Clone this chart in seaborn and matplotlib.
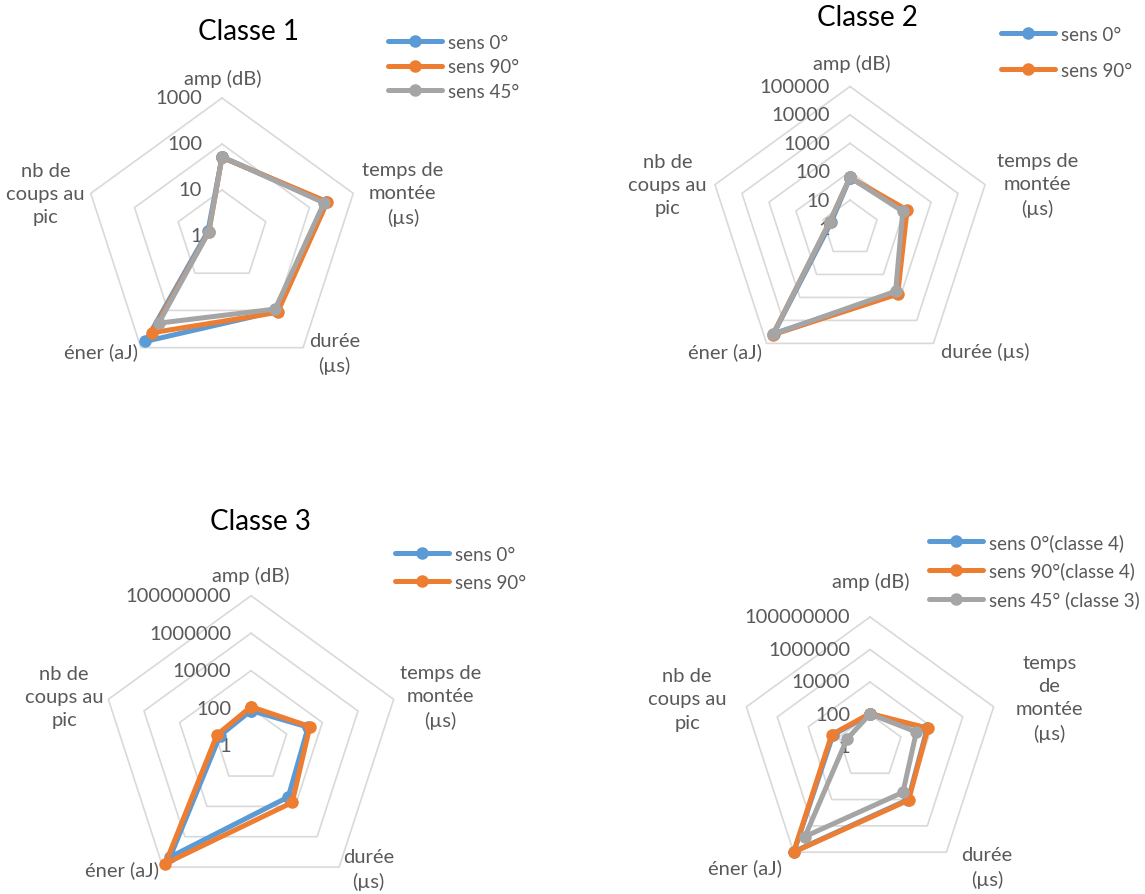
import numpy as np
import matplotlib.pyplot as plt
import seaborn as sns
from matplotlib.lines import Line2D
from matplotlib.transforms import offset_copy

sns.set_theme(style="white")
plt.rcParams["font.family"] = ["Lato", "DejaVu Sans"]

# ---- data ----
labels_a = ["amp (dB)", "temps de\nmontée\n(µs)", "durée\n(µs)", "éner (aJ)", "nb de\ncoups au\npic"]
labels_b = ["amp (dB)", "temps de\nmontée\n(µs)", "durée (µs)", "éner (aJ)", "nb de\ncoups au\npic"]
labels_c = ["amp (dB)", "temps\nde\nmontée\n(µs)", "durée\n(µs)", "éner (aJ)", "nb de\ncoups au\npic"]

# classe 1
c1_sens0 = [52, 240, 105, 680, 2.1]
c1_sens90 = [51, 255, 113, 400, 2.0]
c1_sens45 = [53, 215, 92, 220, 2.0]
c1_ticks = ["1", "10", "100", "1000"]

# classe 2
c2_sens0 = [62, 110, 620, 38000, 5.0]
c2_sens90 = [63, 130, 720, 42000, 5.6]
c2_sens45 = [63, 90, 540, 40000, 5.7]
c2_ticks = ["1", "10", "100", "1000", "10000", "100000"]

# classe 3
c3_sens0 = [75, 1600, 2400, 2.2e7, 55]
c3_sens90 = [120, 2000, 5500, 6e7, 80]
c3_ticks = ["1", "100", "10000", "1000000", "100000000"]

# classe 4 (+ sens 45 of classe 3)
c4_sens0 = [105, 5000, 10000, 9e7, 250]
c4_sens90 = [115, 5600, 11000, 1e8, 300]
c3_sens45 = [108, 1000, 2800, 6.5e6, 32]
c4_ticks = ["1", "100", "10000", "1000000", "100000000"]

BLUE, ORANGE, GRAY = "#5B9BD5", "#ED7D31", "#A5A5A5"
TXT = "#595959"
FS = 14.5
FS_LEG = 13.5
W, H = 1145, 895

fig = plt.figure(figsize=(W / 100, H / 100), dpi=100)


def radar(cx, cy, R, series, ticks, cat_labels, lab_off):
    ax = fig.add_axes([(cx - R) / W, 1 - (cy + R) / H, 2 * R / W, 2 * R / H], projection="polar")
    ax.set_theta_zero_location("N")
    ax.set_theta_direction(-1)
    ax.set_rscale("log")
    tvals = [float(t) for t in ticks]
    ax.set_rlim(tvals[0], tvals[-1])
    ax.grid(False)
    ax.spines["polar"].set_visible(False)
    ax.set_xticks([])
    ax.set_yticks([])
    ax.yaxis.set_minor_locator(plt.NullLocator())
    ax.patch.set_alpha(0)

    theta = np.linspace(0, 2 * np.pi, 6)
    # pentagon grid rings
    for t in tvals[1:]:
        ax.plot(theta, [t] * 6, color="#D9D9D9", lw=1.2, zorder=1, clip_on=False)

    # tick labels left of the vertical axis
    tr = offset_copy(ax.transData, fig=fig, x=-20, y=0, units="dots")
    for t, s in zip(tvals, ticks):
        ax.text(0, t, s, transform=tr, ha="right", va="center", fontsize=FS,
                color=TXT, zorder=1)

    # category labels anchored at the outer vertices
    for i, (lab, (dx, dy, ha, va)) in enumerate(zip(cat_labels, lab_off)):
        trl = offset_copy(ax.transData, fig=fig, x=dx, y=dy, units="dots")
        ax.text(theta[i], tvals[-1], lab, transform=trl, ha=ha, va=va, fontsize=FS,
                color=TXT, multialignment="center", linespacing=1.45)

    for vals, col in series:
        sns.lineplot(x=theta, y=list(vals) + [vals[0]], ax=ax, sort=False, estimator=None,
                     color=col, lw=3.6, marker="o", markersize=9, markeredgewidth=0,
                     clip_on=False, zorder=3)
    return ax


def legend(names, colors, x, y, spacing):
    handles = [Line2D([], [], color=c, lw=3.6, marker="o", markersize=9, markeredgewidth=0)
               for c in colors]
    fig.legend(handles, names, loc="upper left", bbox_to_anchor=(x / W, 1 - y / H),
               frameon=False, fontsize=FS_LEG, handlelength=2.9, handletextpad=0.3,
               labelspacing=spacing, borderpad=0, borderaxespad=0, labelcolor=TXT)


off1 = [(1, 11, "center", "bottom"), (9, 0, "left", "center"), (6, -5, "left", "center"),
        (-3, -4, "right", "center"), (-6, 0, "right", "center")]
off2 = [(2, 14, "center", "bottom"), (12, 0, "left", "center"), (8, -8, "left", "center"),
        (-5, -8, "right", "center"), (-8, 0, "right", "center")]
off3 = [(0, 12, "center", "bottom"), (6, 3, "left", "center"), (4, -2, "left", "center"),
        (-4, -2, "right", "center"), (-5, 3, "right", "center")]
off4 = [(1, 27, "center", "bottom"), (22, 9, "left", "center"), (15, -15, "left", "center"),
        (-12, -15, "right", "center"), (-20, 8, "right", "center")]

radar(222, 237, 138, [(c1_sens0, BLUE), (c1_sens90, ORANGE), (c1_sens45, GRAY)],
      c1_ticks, labels_a, off1)
radar(850, 229.5, 142, [(c2_sens0, BLUE), (c2_sens90, ORANGE), (c2_sens45, GRAY)],
      c2_ticks, labels_b, off2)
radar(251, 746.7, 150, [(c3_sens0, BLUE), (c3_sens90, ORANGE)],
      c3_ticks, labels_a, off3)
radar(870, 748, 130, [(c4_sens0, BLUE), (c4_sens90, ORANGE), (c3_sens45, GRAY)],
      c4_ticks, labels_c, off4)

fig.text(248 / W, 1 - 32 / H, "Classe 1", fontsize=20, ha="center", va="center", color="black")
fig.text(867 / W, 1 - 18 / H, "Classe 2", fontsize=20, ha="center", va="center", color="black")
fig.text(260 / W, 1 - 522 / H, "Classe 3", fontsize=20, ha="center", va="center", color="black")

legend(["sens 0°", "sens 90°", "sens 45°"], [BLUE, ORANGE, GRAY], 388, 35, 0.39)
legend(["sens 0°", "sens 90°"], [BLUE, ORANGE], 1001, 27, 1.0)
legend(["sens 0°", "sens 90°"], [BLUE, ORANGE], 395, 547, 0.57)
legend(["sens 0°(classe 4)", "sens 90°(classe 4)", "sens 45° (classe 3)"],
       [BLUE, ORANGE, GRAY], 929, 534, 0.57)

fig.savefig("out.png", dpi=100)
